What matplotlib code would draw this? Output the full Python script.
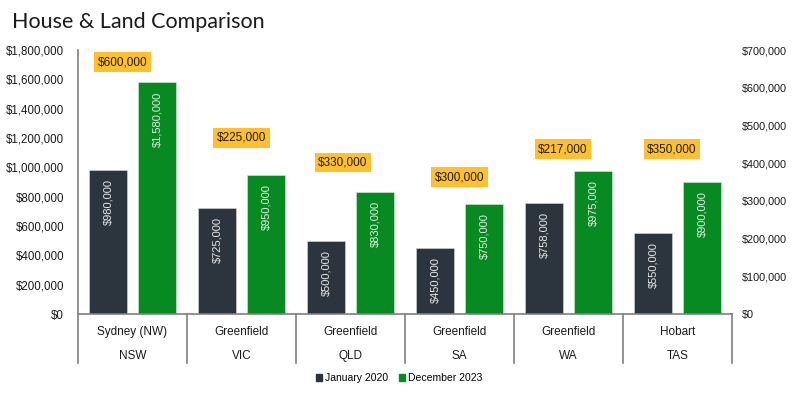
import matplotlib
matplotlib.use("Agg")
import matplotlib.pyplot as plt
import matplotlib.patches as mpatches
from matplotlib.ticker import FuncFormatter, MultipleLocator
import numpy as np

cities = ["Sydney (NW)", "Greenfield", "Greenfield", "Greenfield", "Greenfield", "Hobart"]
states = ["NSW", "VIC", "QLD", "SA", "WA", "TAS"]
jan2020 = [980000, 725000, 500000, 450000, 758000, 550000]
dec2023 = [1580000, 950000, 830000, 750000, 975000, 900000]
diff_labels = ["$600,000", "$225,000", "$330,000", "$300,000", "$217,000", "$350,000"]
# vertical placement of the difference boxes (left-axis units)
diff_label_y = [1718000, 1200000, 1036000, 934000, 1125000, 1125000]
diff_label_dx = [-0.09, 0.0, -0.07, 0.0, -0.05, -0.05]

C_DARK = "#2c353d"
C_GREEN = "#078a22"
C_ORANGE = "#fec02f"
C_SPINE = "#7f7f7f"

plt.rcParams["font.family"] = ["Liberation Sans", "DejaVu Sans"]

fig = plt.figure(figsize=(7.92, 3.95), dpi=100)
ax = fig.add_axes([78/792, 1-314/395, (732-78)/792, (314-50)/395])

x = np.arange(len(cities))
w = 0.35
off = 0.225
ax.bar(x - off, jan2020, w, color=C_DARK, edgecolor="#d9d9d9", linewidth=0.4, label="January 2020", zorder=2)
ax.bar(x + off, dec2023, w, color=C_GREEN, edgecolor="#d9e9d9", linewidth=0.4, label="December 2023", zorder=2)

fmt = lambda v: "${:,.0f}".format(v)
for xi, v in zip(x - off, jan2020):
    ax.annotate(fmt(v), (xi, v), xytext=(0, -9), textcoords="offset pixels",
                rotation=90, ha="center", va="top", color="#e8e8e8", fontsize=8)
for xi, v in zip(x + off, dec2023):
    ax.annotate(fmt(v), (xi, v), xytext=(0, -9), textcoords="offset pixels",
                rotation=90, ha="center", va="top", color="#dff0df", fontsize=8)

for xi, lab, yy, dx in zip(x, diff_labels, diff_label_y, diff_label_dx):
    ax.text(xi + dx, yy, lab, ha="center", va="center", fontsize=8.5, color="#1a1a1a",
            bbox=dict(boxstyle="square,pad=0.3", facecolor=C_ORANGE, edgecolor="none"), zorder=4)

ax.set_xlim(-0.5, len(cities) - 0.5)
ax.set_ylim(0, 1800000)
ax.yaxis.set_major_locator(MultipleLocator(200000))
ax.yaxis.set_major_formatter(FuncFormatter(lambda v, p: fmt(v)))
ax.tick_params(axis="y", length=0, pad=10, labelsize=8.3, labelcolor="#1a1a1a")
ax.set_xticks([])
for s in ["top", "right"]:
    ax.spines[s].set_visible(False)
ax.spines["left"].set_color(C_SPINE)
ax.spines["bottom"].set_color(C_SPINE)
ax.spines["left"].set_linewidth(1.2)
ax.spines["bottom"].set_linewidth(1.2)

# category separators and two-level labels
trans = ax.get_xaxis_transform()
sep_depth = -(363-314)/264
for xs in np.arange(-0.5, len(cities), 1.0):
    ax.plot([xs, xs], [0, sep_depth], transform=trans, color=C_SPINE, lw=1.2, clip_on=False)
for xi, c, s in zip(x, cities, states):
    ax.text(xi, -(332-314)/264, c, transform=trans, ha="center", va="center", fontsize=8.5, color="#1a1a1a")
    ax.text(xi, -(356-314)/264, s, transform=trans, ha="center", va="center", fontsize=8.5, color="#1a1a1a")

ax2 = ax.twinx()
ax2.set_ylim(0, 700000)
ax2.yaxis.set_major_locator(MultipleLocator(100000))
ax2.yaxis.set_major_formatter(FuncFormatter(lambda v, p: fmt(v)))
ax2.tick_params(axis="y", length=0, pad=7, labelsize=7.8, labelcolor="#1a1a1a")
for s in ax2.spines.values():
    s.set_visible(False)

handles = [mpatches.Patch(color=C_DARK, label="January 2020"),
           mpatches.Patch(color=C_GREEN, label="December 2023")]
fig.legend(handles=handles, loc="center", bbox_to_anchor=(399/792, 1-378/395), ncol=2,
           frameon=False, fontsize=7.5, handlelength=0.6, handleheight=0.6,
           handletextpad=0.3, columnspacing=1.0)

fig.text(12/792, 1-22/395, "House & Land Comparison", ha="left", va="center",
         fontsize=15.5, family=["Lato", "DejaVu Sans"], color="#1a1a1a")

fig.savefig("out.png", dpi=100, facecolor="white")
